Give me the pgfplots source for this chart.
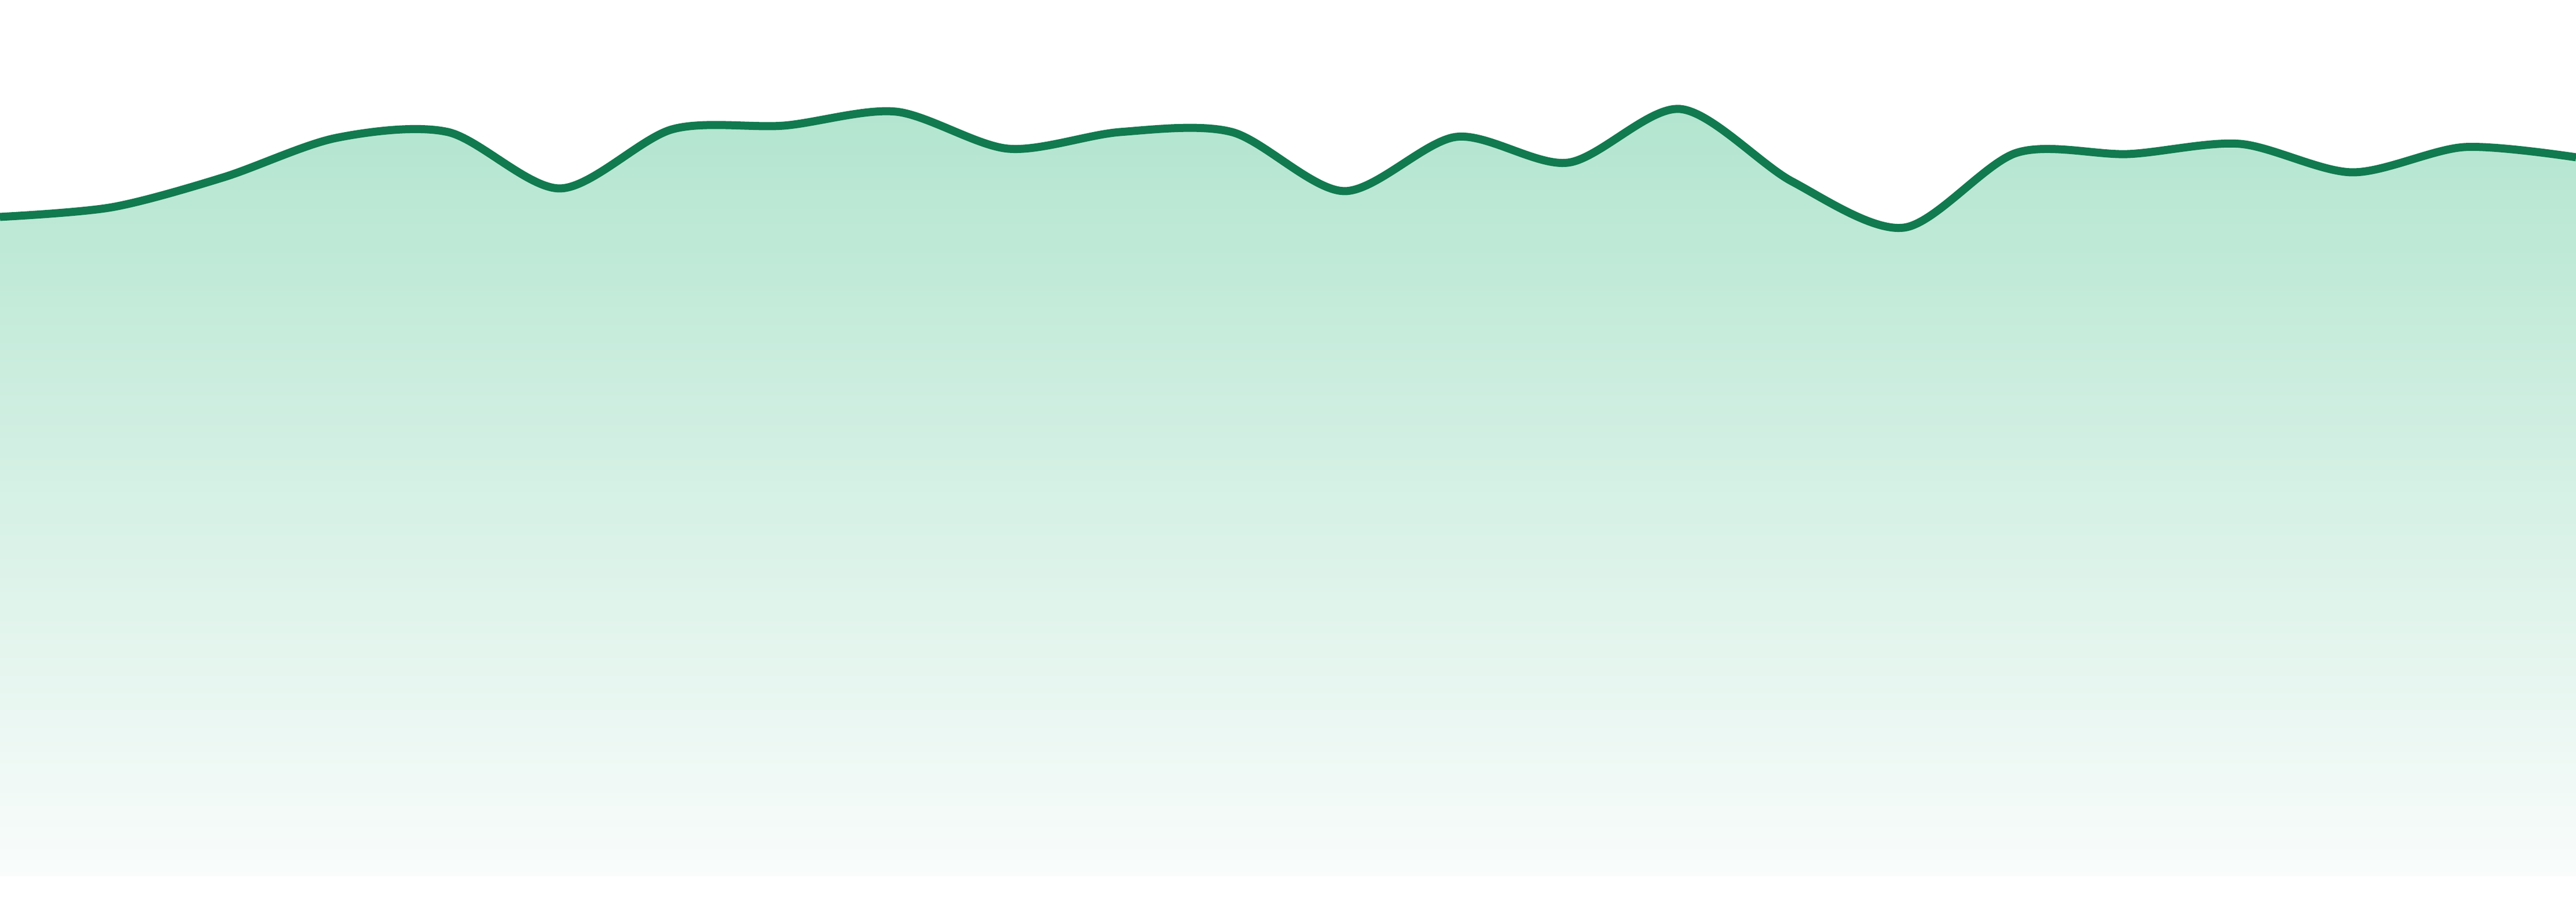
\documentclass[border=0pt]{standalone}
\usepackage{pgfplots}
\pgfplotsset{compat=1.18}
\usepackage{pgfplotstable}

\definecolor{linegreen}{RGB}{17,122,79}
\definecolor{filltop}{RGB}{178,229,207}
\definecolor{fillbot}{RGB}{249,252,251}

% one value per step, 24 steps
\pgfplotstableread{
x   v
0   122.8
1   124.6
2   130.2
3   137.5
4   138.6
5   128.1
6   139.1
7   139.8
8   142.4
9   135.5
10  138.6
11  138.6
12  127.6
13  137.7
14  132.9
15  142.9
16  129.4
17  120.8
18  134.7
19  134.5
20  136.4
21  131.1
22  135.8
23  133.9
}\series

\begin{document}
\begin{tikzpicture}
    \begin{axis}[
        width=480pt, height=168pt,
        scale only axis,
        hide axis,
        xmin=0, xmax=23,
        ymin=-4.8, ymax=163.2,
        clip=true,
    ]
    % gradient area under the curve
    \addplot[smooth, draw=none, shade, top color=filltop, bottom color=fillbot]
        table[x=x, y=v] {\series} \closedcycle;
    % the line itself
    \addplot[smooth, draw=linegreen, line width=1.5pt, no markers]
        table[x=x, y=v] {\series};
    \end{axis}
    \pgfresetboundingbox
    \path (current axis.south west) rectangle (current axis.north east);
\end{tikzpicture}
\end{document}
